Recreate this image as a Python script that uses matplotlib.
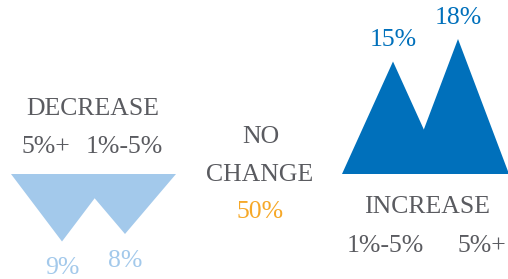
import matplotlib
matplotlib.use("Agg")
import matplotlib.pyplot as plt

# data
dec_labels = ["5%+", "1%-5%"]
dec_values = [9, 8]
inc_labels = ["1%-5%", "5%+"]
inc_values = [15, 18]
no_change = 50

# layout (x in pixel-like units, y in percent)
dec_x = [62, 125]
inc_x = [393, 458]
half_w = 51

light_blue = "#a3c9eb"
dark_blue = "#0070bb"
grey = "#5a5b60"
orange = "#f6a828"

plt.rcParams["font.family"] = ["Liberation Serif", "DejaVu Serif"]
fs = 18.5

fig = plt.figure(figsize=(5.08, 2.79), dpi=100)
ax = fig.add_axes([0, 0, 1, 1])
ax.set_xlim(0, 508)
ax.set_ylim(-14, 23.2)
ax.axis("off")

# decrease: downward triangles
for x, v in zip(dec_x, dec_values):
    ax.fill([x - half_w, x, x + half_w], [0, -v, 0], color=light_blue, lw=0)
    ax.text(x, -v - 3.6, f"{v}%", color=light_blue, fontsize=fs, ha="center", va="center")

# increase: upward triangles
for x, v in zip(inc_x, inc_values):
    ax.fill([x - half_w, x, x + half_w], [0, v, 0], color=dark_blue, lw=0)
    ax.text(x, v + 2.8, f"{v}%", color=dark_blue, fontsize=fs, ha="center", va="center")

def txt(px, py, s, color=grey):
    ax.text(px / 508, 1 - py / 279, s, transform=ax.transAxes, color=color,
            fontsize=fs, ha="center", va="center")

txt(93, 109, "DECREASE")
txt(46, 147, dec_labels[0])
txt(124, 147, dec_labels[1])

txt(261, 137, "NO")
txt(260, 175, "CHANGE")
txt(260, 212, f"{no_change}%", color=orange)

txt(427, 207, "INCREASE")
txt(385, 246, inc_labels[0])
txt(482, 246, inc_labels[1])

fig.savefig("out.png", dpi=100)
